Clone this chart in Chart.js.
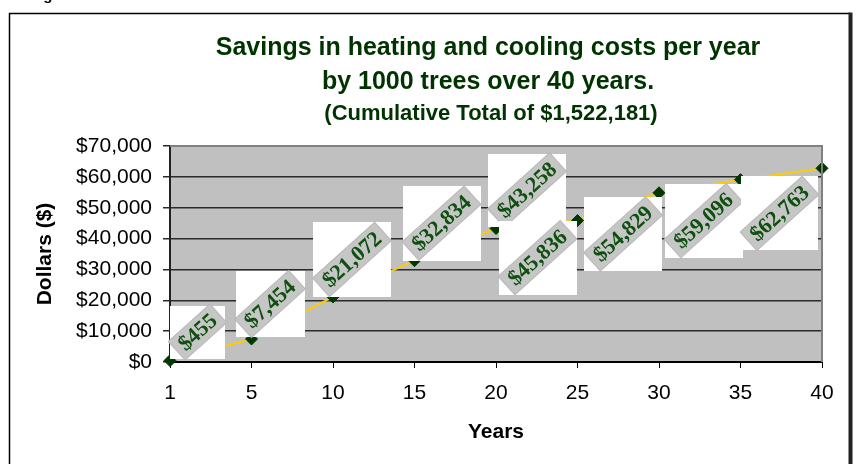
<!DOCTYPE html>
<html><head><meta charset="utf-8">
<script src="https://cdn.jsdelivr.net/npm/chart.js@4/dist/chart.umd.min.js"></script>
<style>html,body{margin:0;padding:0;background:#fff;}#wrap{width:856px;height:464px;position:relative;}</style>
</head><body><div id="wrap"><canvas id="c" width="856" height="464"></canvas></div>
<script>
const years = ['1','5','10','15','20','25','30','35','40'];
const savings = [455, 7454, 21072, 32834, 43258, 45836, 54829, 59096, 62763];
const titleLines = ['Savings in heating and cooling costs per year', 'by 1000 trees over 40 years.'];
const subtitleText = '(Cumulative Total of $1,522,181)';
const yTitle = 'Dollars ($)';
const xTitle = 'Years';
const yMin = 0, yMax = 70000, yStep = 10000;

// layout of the white label boxes, relative to each point (style only)
const labelBoxOffsets = [[27.5,-28.5],[18.5,-35],[19,-37.5],[27,-37.5],[31,-38.5],[-40,37],[-36,41],[-37,41],[-42.5,45]];
const labelBoxSizes = [[55,53],[69,66],[78,75],[78,75],[78,73],[78,74],[78,74],[78,74],[77,74]];

const fmt = v => '$' + Number(v).toLocaleString('en-US');

const decor = {
  id: 'decor',
  beforeDraw(chart) {
    const {ctx, chartArea: a} = chart;
    ctx.save();
    ctx.fillStyle = '#fff';
    ctx.fillRect(0, 0, chart.width, chart.height);
    ctx.fillStyle = '#c0c0c0';
    ctx.fillRect(a.left, a.top, a.right - a.left, a.bottom - a.top);
    ctx.restore();
  },
  afterDatasetsDraw(chart) {
    const ctx = chart.ctx;
    const meta = chart.getDatasetMeta(0);
    const data = chart.data.datasets[0].data;
    meta.data.forEach((pt, i) => {
      const [ox, oy] = labelBoxOffsets[i];
      const [w, h] = labelBoxSizes[i];
      const cx = pt.x + ox, cy = pt.y + oy;
      ctx.save();
      ctx.fillStyle = '#fff';
      ctx.fillRect(Math.round(cx - w / 2), Math.round(cy - h / 2), w, h);
      ctx.translate(cx, cy);
      ctx.rotate(-42 * Math.PI / 180);
      ctx.font = 'bold 22px "Liberation Serif"';
      const txt = fmt(data[i]);
      const tw = ctx.measureText(txt).width;
      const bw = tw + 12, bh = 25;
      ctx.fillStyle = '#c6c6c6';
      ctx.fillRect(-bw / 2, -bh / 2, bw, bh);
      ctx.strokeStyle = '#b8b8b8';
      ctx.lineWidth = 1;
      ctx.strokeRect(-bw / 2, -bh / 2, bw, bh);
      ctx.fillStyle = '#0f4f0f';
      ctx.textAlign = 'center';
      ctx.textBaseline = 'middle';
      ctx.fillText(txt, 0, 1);
      ctx.restore();
    });
  },
  afterDraw(chart) {
    const {ctx, chartArea: a} = chart;
    ctx.save();
    // plot frame top/right
    ctx.strokeStyle = '#808080';
    ctx.lineWidth = 2;
    ctx.beginPath();
    ctx.moveTo(a.left, a.top);
    ctx.lineTo(a.right, a.top);
    ctx.lineTo(a.right, a.bottom);
    ctx.stroke();
    // outer frame
    ctx.strokeStyle = '#000';
    ctx.lineWidth = 1.5;
    ctx.beginPath();
    ctx.moveTo(9.5, 470);
    ctx.lineTo(9.5, 13.5);
    ctx.lineTo(850, 13.5);
    ctx.stroke();
    ctx.strokeStyle = '#222';
    ctx.lineWidth = 4;
    ctx.beginPath();
    ctx.moveTo(850.5, 12.5);
    ctx.lineTo(850.5, 470);
    ctx.stroke();
    // stray heading fragment above frame
    ctx.fillStyle = '#000';
    ctx.font = 'bold 15px "Liberation Sans"';
    ctx.textAlign = 'left';
    ctx.textBaseline = 'alphabetic';
    ctx.fillText('Figure', 30, 0);
    // titles
    ctx.fillStyle = '#003300';
    ctx.textAlign = 'center';
    ctx.textBaseline = 'middle';
    ctx.font = 'bold 25px "Liberation Sans"';
    ctx.fillText(titleLines[0], 488, 48);
    ctx.fillText(titleLines[1], 488, 82);
    ctx.font = 'bold 22px "Liberation Sans"';
    ctx.fillText(subtitleText, 491, 114);
    ctx.restore();
  }
};

new Chart(document.getElementById('c'), {
  type: 'line',
  data: {
    labels: years,
    datasets: [{
      data: savings,
      borderColor: '#ffcc00',
      borderWidth: 2,
      pointStyle: 'rectRot',
      pointRadius: 6,
      pointBackgroundColor: '#003800',
      pointBorderColor: '#003800',
      pointBorderWidth: 1,
      tension: 0,
      clip: false
    }]
  },
  options: {
    responsive: false,
    devicePixelRatio: 1,
    animation: false,
    layout: { padding: { left: 10, right: 34, top: 146, bottom: 0 } },
    plugins: { legend: { display: false }, tooltip: { enabled: false }, title: { display: false } },
    scales: {
      x: {
        type: 'category',
        offset: false,
        afterFit(s) { s.height = 102; },
        grid: { display: true, drawOnChartArea: false, drawTicks: true, tickLength: 6, color: '#000', lineWidth: 1 },
        border: { display: true, color: '#000', width: 2 },
        ticks: { color: '#000', font: { family: 'Liberation Sans', size: 21 }, padding: 13, autoSkip: false, maxRotation: 0 },
        title: { display: true, text: xTitle, color: '#000', font: { family: 'Liberation Sans', size: 21, weight: 'bold' }, padding: { top: 0, bottom: 19 } }
      },
      y: {
        min: yMin, max: yMax,
        afterFit(s) { s.width = 160; },
        grid: { display: true, drawOnChartArea: true, drawTicks: true, tickLength: 7, color: '#2a2a2a', lineWidth: 1.5 },
        border: { display: true, color: '#222', width: 2 },
        ticks: { stepSize: yStep, color: '#000', font: { family: 'Liberation Sans', size: 21 }, padding: 11, callback: v => fmt(v) },
        title: { display: true, text: yTitle, color: '#000', font: { family: 'Liberation Sans', size: 21, weight: 'bold' }, padding: { top: 23, bottom: 0 } }
      }
    }
  },
  plugins: [decor]
});
</script>
</body></html>
